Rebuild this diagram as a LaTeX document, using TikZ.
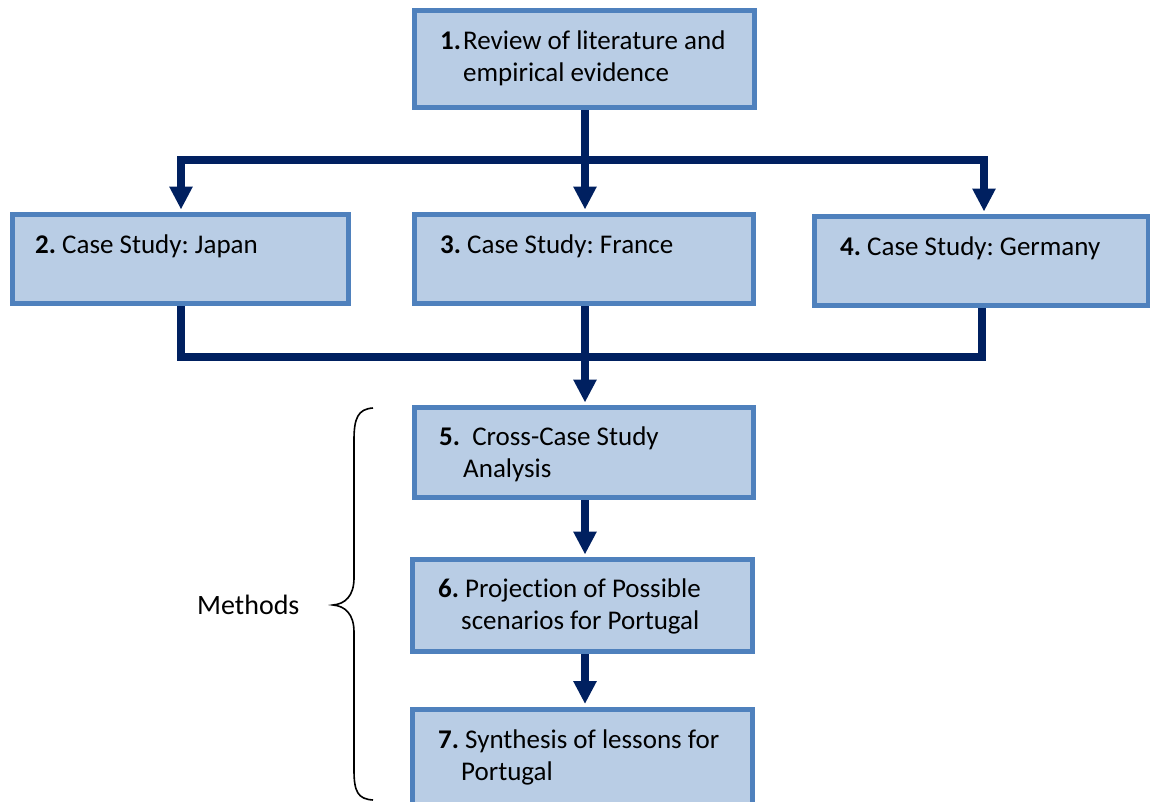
\documentclass[tikz,border=0pt]{standalone}
\usepackage{fontspec}
\setmainfont[Ligatures={NoCommon}]{Carlito}
\frenchspacing
\usetikzlibrary{arrows.meta,backgrounds}
\definecolor{boxfill}{HTML}{B9CDE5}
\definecolor{boxline}{HTML}{4F81BD}
\definecolor{navy}{HTML}{002060}
\begin{document}
\frenchspacing
\begin{tikzpicture}[x=1pt,y=-1pt,
  box/.style={draw=boxline,fill=boxfill,line width=5pt,rectangle,inner sep=0pt},
  txt/.style={inner sep=0pt,anchor=base west,font=\fontsize{27}{32}\selectfont},
  conn/.style={draw=navy,line width=7.5pt},
  arr/.style={conn,-{Triangle[width=22pt,length=23pt]},shorten >=2.5pt}]
\useasboundingbox (0,0) rectangle (1150,801);
\clip (0,0) rectangle (1150,801);
% boxes
\node[box,minimum width=340pt,minimum height=97pt] (b1) at (584.5,59) {};
\node[box,minimum width=336pt,minimum height=89pt] (b2) at (180.5,259) {};
\node[box,minimum width=339pt,minimum height=89pt] (b3) at (584,259) {};
\node[box,minimum width=334pt,minimum height=89pt] (b4) at (981.5,261) {};
\node[box,minimum width=339pt,minimum height=90pt] (b5) at (584,452.5) {};
\node[box,minimum width=340pt,minimum height=92pt] (b6) at (582.5,605.5) {};
\node[box,minimum width=340pt,minimum height=96pt] (b7) at (582.5,757) {};
% texts
\node[txt] (t1a) at (440,49) {\textbf{1.}\kern2pt Review of literature and};
\node[txt] (t1b) at (463,81) {empirical evidence};
\node[txt] (t2) at (35,253) {\textbf{2.} Case Study: Japan};
\node[txt] (t3) at (440,253) {\textbf{3.} Case Study: France};
\node[txt] (t4) at (840,255) {\textbf{4.} Case Study: Germany};
\node[txt] (t5a) at (439,445) {\textbf{5.}\ \ Cross-Case Study};
\node[txt] (t5b) at (463,477) {Analysis};
\node[txt] (t6a) at (438,597) {\textbf{6.} Projection of Possible};
\node[txt] (t6b) at (461,629) {scenarios for Portugal};
\node[txt] (t7a) at (438,748) {\textbf{7.} Synthesis of lessons for};
\node[txt] (t7b) at (461,780) {Portugal};
\node[txt,font=\fontsize{28}{32}\selectfont] (meth) at (197,614) {Methods};
% connectors
\coordinate (j1) at (585,160);
\coordinate (jl) at (181,160);
\coordinate (jr) at (984,160);
\coordinate (kl) at (181,357);
\coordinate (kr) at (982,357);
\begin{scope}[on background layer]
\draw[conn] (j1 |- b1.south) -- (j1);
\draw[conn,line cap=rect] (jl) -- (jr);
\draw[arr] (jl) -- (jl |- b2.north);
\draw[arr] (j1) -- (j1 |- b3.north);
\draw[arr] (jr) -- (jr |- b4.north);
\draw[conn,line join=miter] (kl |- b2.south) -- (kl) -- (kr) -- (kr |- b4.south);
\draw[arr] (j1 |- b3.south) -- (j1 |- b5.north);
\draw[arr] (j1 |- b5.south) -- (j1 |- b6.north);
\draw[arr] (j1 |- b6.south) -- (j1 |- b7.north);
\end{scope}
% brace
\draw[line width=1.6pt,black] (373,408) .. controls (358,409) and (354,418) .. (354,440)
  -- (354,578) .. controls (354,596) and (345,604) .. (333,605)
  .. controls (345,606) and (354,614) .. (354,632)
  -- (354,770) .. controls (354,792) and (358,799) .. (373,800);
\end{tikzpicture}
\end{document}
